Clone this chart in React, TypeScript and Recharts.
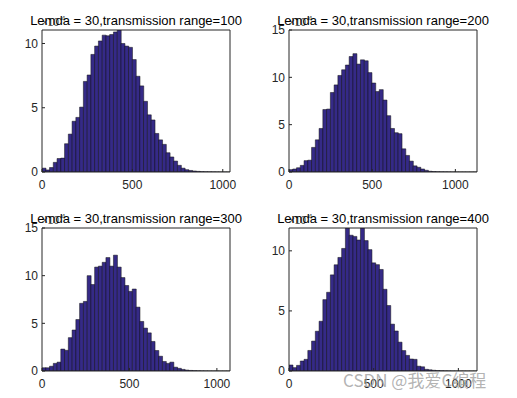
import { Bar, ComposedChart, Line, XAxis, YAxis } from "recharts";

const W = 517;
const H = 398;
const FONT = "'Liberation Sans', Arial, Helvetica, sans-serif";
const AXIS = "#262626";
const FACE = "#352a87";
const EDGE = "#111111";

// counts per bin, in units of 10^4 (50 bins each)
const countsRange100 = [
  0.3, 0.16, 0.35, 0.75, 1.05, 1.08, 2.2, 2.95, 3.95, 4.25,
  5.05, 7.05, 7.55, 9.15, 9.8, 10.2, 10.65, 10.6, 10.7, 10.9,
  11.05, 10.0, 9.8, 9.7, 8.75, 7.45, 6.7, 5.5, 4.45, 4.05,
  3.0, 2.5, 2.15, 1.5, 1.17, 0.85, 0.52, 0.3, 0.18, 0.12,
  0.08, 0.05, 0.03, 0.02, 0.015, 0.01, 0.006, 0.004, 0.002, 0.001,
];
const countsRange200 = [
  0.25, 0.32, 0.45, 0.7, 1.2, 1.25, 2.6, 3.4, 4.6, 6.6,
  6.65, 8.4, 9.2, 10.2, 10.8, 11.3, 12.2, 12.5, 11.4, 11.85,
  11.75, 10.5, 9.4, 8.5, 8.7, 7.6, 5.95, 4.6, 4.15, 4.05,
  2.45, 1.75, 1.15, 0.65, 0.5, 0.32, 0.18, 0.08, 0.05, 0.03,
  0.02, 0.015, 0.01, 0.006, 0.004, 0.003, 0.002, 0.001, 0.001, 0.001,
];
const countsRange300 = [
  0.34, 0.34, 0.5, 0.8, 0.93, 2.3, 2.17, 3.5, 4.3, 5.4,
  7.1, 7.3, 10.0, 9.07, 10.9, 11.0, 11.4, 11.9, 11.0, 12.15,
  10.9, 9.8, 8.97, 8.35, 8.6, 6.7, 5.2, 4.5, 4.0, 3.1,
  2.15, 1.55, 1.0, 0.8, 0.93, 0.4, 0.28, 0.17, 0.1, 0.06,
  0.04, 0.025, 0.015, 0.01, 0.006, 0.004, 0.002, 0.001, 0.001, 0.001,
];
const countsRange400 = [
  0.5, 0.28, 0.47, 0.83, 0.97, 1.71, 2.49, 3.31, 4.14, 5.94,
  6.55, 8.0, 8.84, 9.45, 10.2, 11.9, 11.3, 11.2, 10.9, 11.9,
  10.85, 10.1, 9.0, 8.85, 8.45, 6.8, 5.45, 3.9, 3.33, 2.4,
  1.7, 1.3, 1.0, 0.97, 0.4, 0.35, 0.14, 0.1, 0.06, 0.04,
  0.025, 0.015, 0.01, 0.006, 0.004, 0.003, 0.002, 0.001, 0.001, 0.001,
];

const titles = [
  "Lemda = 30,transmission range=100",
  "Lemda = 30,transmission range=200",
  "Lemda = 30,transmission range=300",
  "Lemda = 30,transmission range=400",
];
const xLimits = [1040, 1130, 1075, 1110];
const yLimits = [11.05, 15, 15, 11.9];
const xTicks = [0, 500, 1000];
const yTicksShort = [0, 5, 10];
const yTicksTall = [0, 5, 10, 15];

const panels = [
  { counts: countsRange100, yTicks: yTicksShort, box: { x0: 42, x1: 230, y0: 30, y1: 172 } },
  { counts: countsRange200, yTicks: yTicksTall, box: { x0: 289, x1: 477, y0: 30, y1: 172 } },
  { counts: countsRange300, yTicks: yTicksTall, box: { x0: 42, x1: 230, y0: 228, y1: 371 } },
  { counts: countsRange400, yTicks: yTicksShort, box: { x0: 289, x1: 477, y0: 228, y1: 371 } },
];

const tickStyle = { fill: AXIS, fontSize: 12, fontFamily: FONT };

type Box = { x0: number; x1: number; y0: number; y1: number };

function Subplot({
  counts,
  xMax,
  yMax,
  yTicks,
  box,
}: {
  counts: number[];
  xMax: number;
  yMax: number;
  yTicks: number[];
  box: Box;
}) {
  const binWidth = xMax / counts.length;
  const data = counts.map((c, i) => ({ x: (i + 0.5) * binWidth, count: c }));
  return (
    <div style={{ position: "absolute", left: 0, top: 0 }}>
      <ComposedChart
        width={W}
        height={H}
        data={data}
        barCategoryGap={0}
        barGap={0}
        margin={{
          top: box.y0 - 1,
          left: box.x0 - 30,
          right: W - box.x1 - 1,
          bottom: H - box.y1 - 22,
        }}
      >
        <XAxis
          xAxisId="bottom"
          dataKey="x"
          type="number"
          domain={[0, xMax]}
          ticks={xTicks}
          allowDataOverflow
          interval={0}
          height={22}
          stroke={AXIS}
          tickSize={-3}
          tickMargin={11}
          tick={tickStyle}
        />
        <XAxis
          xAxisId="top"
          orientation="top"
          dataKey="x"
          type="number"
          domain={[0, xMax]}
          ticks={xTicks}
          allowDataOverflow
          interval={0}
          height={1}
          stroke={AXIS}
          tickSize={-3}
          tick={false}
        />
        <YAxis
          yAxisId="left"
          type="number"
          domain={[0, yMax]}
          ticks={yTicks}
          allowDataOverflow
          interval={0}
          width={30}
          stroke={AXIS}
          tickSize={-3}
          tickMargin={7}
          tick={tickStyle}
        />
        <YAxis
          yAxisId="right"
          orientation="right"
          type="number"
          domain={[0, yMax]}
          ticks={yTicks}
          allowDataOverflow
          interval={0}
          width={1}
          stroke={AXIS}
          tickSize={-3}
          tick={false}
        />
        <Bar
          xAxisId="bottom"
          yAxisId="left"
          dataKey="count"
          fill={FACE}
          stroke={EDGE}
          strokeWidth={0.5}
          isAnimationActive={false}
        />
        <Line
          xAxisId="top"
          yAxisId="right"
          dataKey="count"
          stroke="none"
          dot={false}
          activeDot={false}
          isAnimationActive={false}
        />
      </ComposedChart>
    </div>
  );
}

export default function App() {
  return (
    <div style={{ position: "absolute", left: 0, top: 0, width: W, height: H, background: "#fff" }}>
      {panels.map((p, i) => (
        <Subplot
          key={i}
          counts={p.counts}
          xMax={xLimits[i]}
          yMax={yLimits[i]}
          yTicks={p.yTicks}
          box={p.box}
        />
      ))}
      <svg
        width={W}
        height={H}
        style={{ position: "absolute", left: 0, top: 0, pointerEvents: "none" }}
      >
        {panels.map((p, i) => (
          <g key={i}>
            <text x={p.box.x0} y={p.box.y0 - 4} fontSize={10} fill="#555" fontFamily={FONT}>
              ×10
            </text>
            <text x={p.box.x0 + 19} y={p.box.y0 - 9} fontSize={8} fill="#555" fontFamily={FONT}>
              4
            </text>
            <text
              x={(p.box.x0 + p.box.x1) / 2}
              y={p.box.y0 - 5}
              textAnchor="middle"
              fontSize={13}
              fill="#000"
              fontFamily={FONT}
            >
              {titles[i]}
            </text>
          </g>
        ))}
        <text
          x={343}
          y={387}
          fontSize={17}
          fill="#a0a0a0"
          fillOpacity={0.8}
          fontFamily="'Noto Sans CJK SC', 'Noto Sans', sans-serif"
        >
          CSDN @我爱C编程
        </text>
      </svg>
    </div>
  );
}
